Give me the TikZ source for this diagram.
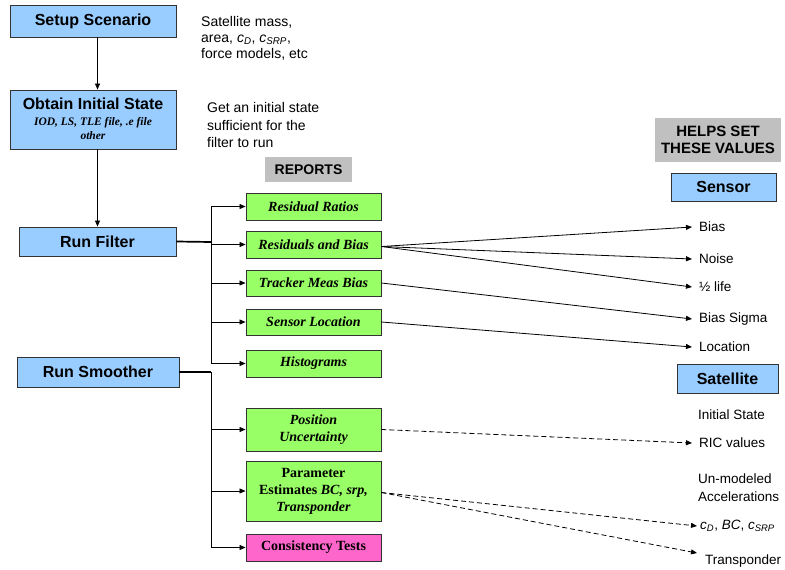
\documentclass[tikz,border=0pt]{standalone}
\usepackage{fontspec}
\setmainfont{Liberation Sans}
\newfontfamily\tnr{Liberation Serif}
\usetikzlibrary{arrows.meta}
\definecolor{boxblue}{HTML}{99CCFF}
\definecolor{boxgreen}{HTML}{99FF66}
\definecolor{boxpink}{HTML}{FF66CC}
\definecolor{boxgray}{HTML}{C0C0C0}
\definecolor{edgecol}{HTML}{333333}
\newcommand{\ital}[1]{\textit{#1}}
\begin{document}
\begin{tikzpicture}[x=1pt,y=-1pt,
  bluebox/.style={draw=edgecol, fill=boxblue, line width=0.9pt, font=\fontsize{16}{19}\selectfont\bfseries, inner sep=0pt, align=center},
  greenbox/.style={draw=edgecol, fill=boxgreen, line width=0.9pt, font=\tnr\fontsize{14}{17}\selectfont\bfseries\itshape, minimum width=135pt, inner sep=0pt, align=center},
  graybox/.style={fill=boxgray, font=\fontsize{14}{16}\selectfont\bfseries, inner sep=0pt, align=center},
  note/.style={align=left, inner sep=0pt, anchor=west},
  val/.style={font=\fontsize{13.5}{18.5}\selectfont, inner xsep=7pt, inner ysep=1pt, anchor=west, align=left},
  arr/.style={-{Triangle[length=6pt,width=5pt]}, line width=0.8pt},
  dsh/.style={arr, dash pattern=on 5pt off 3pt},
  bus/.style={line width=1.7pt},
]
\useasboundingbox (0,0) rectangle (785,570);

% left column
\node[bluebox, minimum width=166pt, minimum height=32pt] (setup) at (93,21) {Setup Scenario};
\node[bluebox, minimum width=166pt, minimum height=59pt] (obtain) at (93,119.5) {};
\node[inner sep=0pt, font=\fontsize{16}{19}\selectfont\bfseries] (obtaintitle) at (93,104) {Obtain Initial State};
\node[inner sep=0pt, align=center, font=\tnr\fontsize{11.5}{14}\selectfont\bfseries\itshape] (obtainsub) at (93,129) {IOD, LS, TLE file, .e file\\other};
\node[bluebox, minimum width=157pt, minimum height=29pt] (filter) at (97.5,241.5) {Run Filter};
\node[bluebox, minimum width=162pt, minimum height=30pt] (smoother) at (98,372) {Run Smoother};

\draw[arr] (setup.south -| filter.north) -- (obtain.north -| filter.north);
\draw[arr] (obtain.south -| filter.north) -- (filter.north);

% notes
\node[note, font=\fontsize{14}{16}\selectfont] (setupnote) at (201,38) {Satellite mass,\\area, \ital{c}\textsubscript{\ital{D}}, \ital{c}\textsubscript{\ital{SRP}},\\force models, etc};
\node[note, font=\fontsize{14}{17.5}\selectfont] (obtainnote) at (207,125) {Get an initial state\\sufficient for the\\filter to run};

% headers
\node[graybox, minimum width=87pt, minimum height=25pt] (reports) at (308.5,169.5) {REPORTS};
\node[graybox, minimum width=126pt, minimum height=44pt, font=\fontsize{15}{16.5}\selectfont\bfseries] (helps) at (718,140) {HELPS SET\\THESE VALUES};
\node[bluebox, minimum width=105pt, minimum height=28pt] (sensor) at (723.5,187) {Sensor};
\node[bluebox, minimum width=101pt, minimum height=29pt] (satellite) at (727.5,378.5) {Satellite};

% report boxes
\node[greenbox, minimum height=27pt] (rr) at (313.5,206.5) {Residual Ratios};
\node[greenbox, minimum height=27pt] (rb) at (313.5,244.5) {Residuals and Bias};
\node[greenbox, minimum height=26pt] (tm) at (313.5,283) {Tracker Meas Bias};
\node[greenbox, minimum height=26pt] (sl) at (313.5,322) {Sensor Location};
\node[greenbox, minimum height=27pt] (hi) at (313.5,363.5) {Histograms};
\node[greenbox, minimum height=43pt] (pu) at (313.5,429.5) {Position\\Uncertainty};
\node[greenbox, minimum height=60pt, font=\tnr\fontsize{14}{17}\selectfont\bfseries] (pe) at (313.5,491) {Parameter\\Estimates \ital{BC, srp,}\\\ital{Transponder}};
\node[greenbox, fill=boxpink, minimum height=27pt, font=\tnr\fontsize{14}{17}\selectfont\bfseries] (ct) at (313.5,547.5) {Consistency Tests};

% filter bus
\coordinate (fb) at (211,242);
\draw[bus] (filter.east) -- (fb);
\foreach \t in {rr,rb,tm,sl,hi} \draw[arr] (fb) |- (\t.west);
% smoother bus
\coordinate (sb) at (211,372);
\draw[bus] (smoother.east) -- (sb);
\foreach \t in {pu,pe,ct} \draw[arr] (sb) |- (\t.west);

% values
\node[val] (bias) at (692,227) {Bias};
\node[val] (noise) at (692,259) {Noise};
\node[val] (half) at (692,287) {½ life};
\node[val] (bsig) at (692,319) {Bias Sigma};
\node[val] (loc) at (692,347) {Location};
\node[val, inner xsep=6pt] (init) at (692,415) {Initial State};
\node[val] (ric) at (692,443) {RIC values};
\node[val, inner xsep=6pt] (unmod) at (692,487.5) {Un-modeled\\Accelerations};
\node[val, inner xsep=3pt] (cd) at (697,526) {\ital{c}\textsubscript{\ital{D}}, \ital{BC}, \ital{c}\textsubscript{\ital{SRP}}};
\node[val, inner xsep=8pt] (trans) at (697,561) {Transponder};

\draw[arr] ([yshift=-2pt]rb.east) -- (bias.west);
\draw[arr] ([yshift=-2pt]rb.east) -- (noise.west);
\draw[arr] ([yshift=-2pt]rb.east) -- (half.west);
\draw[arr] (tm.east) -- (bsig.west);
\draw[arr] (sl.east) -- (loc.west);
\draw[dsh] (pu.east) -- (ric.west);
\draw[dsh] ([yshift=-1.5pt]pe.east) -- (cd.west);
\draw[dsh] ([yshift=-1.5pt]pe.east) -- ([yshift=8pt]trans.west);
\end{tikzpicture}
\end{document}
